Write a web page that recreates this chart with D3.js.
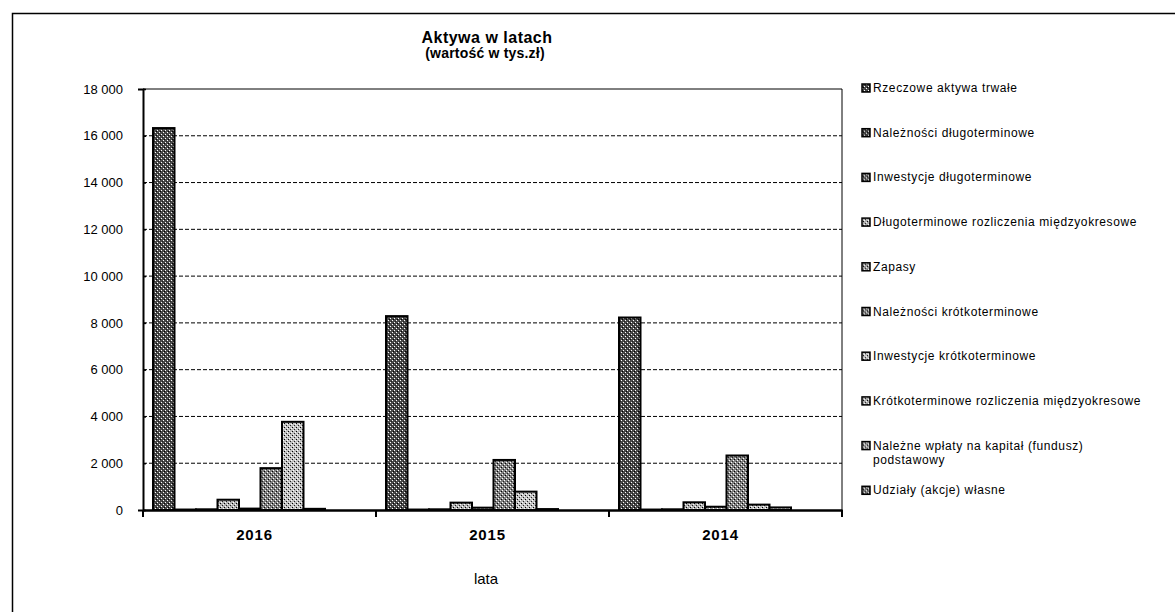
<!DOCTYPE html>
<html>
<head>
<meta charset="utf-8">
<script src="https://cdn.jsdelivr.net/npm/d3@7"></script>
<style>
body{margin:0;background:#fff;overflow:hidden;}
svg{display:block;}
text{font-family:Arial,"Liberation Sans",sans-serif;fill:#000;}
</style>
</head>
<body>
<div id="chart"></div>
<script>
var w=1175;
var h=612;

// data
var years=["2016","2015","2014"];
var series=["Rzeczowe aktywa trwałe","Należności długoterminowe","Inwestycje długoterminowe",
  "Długoterminowe rozliczenia międzyokresowe","Zapasy","Należności krótkoterminowe",
  "Inwestycje krótkoterminowe","Krótkoterminowe rozliczenia międzyokresowe",
  "Należne wpłaty na kapitał (fundusz) podstawowy","Udziały (akcje) własne"];
var v2016=[16330,20,30,440,60,1790,3770,50,0,0];
var v2015=[8290,20,30,315,100,2140,785,40,0,0];
var v2014=[8230,20,30,330,140,2330,230,110,0,0];
var yTicks=[0,2000,4000,6000,8000,10000,12000,14000,16000,18000];

var values={"2016":v2016,"2015":v2015,"2014":v2014};

// gray tones per series (scan is grayscale)
var bg=["#4a4a4a","#444","#666","#b0b0b0","#999","#808080","#c0c0c0","#aaa","#999","#777"];

var svg=d3.select("#chart").append("svg")
          .attr("width",w)
          .attr("height",h);

var defs=svg.append("defs");
series.forEach(function(s,i){
  var p=defs.append("pattern")
            .attr("id","pat"+i)
            .attr("width",4)
            .attr("height",4)
            .attr("patternUnits","userSpaceOnUse");
  p.append("rect").attr("width",4).attr("height",4).attr("fill",bg[i]);
  p.append("rect").attr("x",0).attr("y",0).attr("width",1).attr("height",1).attr("fill","#fff");
  p.append("rect").attr("x",2).attr("y",2).attr("width",1).attr("height",1).attr("fill","#fff");
  p.append("rect").attr("x",1).attr("y",3).attr("width",1).attr("height",1).attr("fill","#000");
  p.append("rect").attr("x",3).attr("y",1).attr("width",1).attr("height",1).attr("fill","#222");
});

// outer frame
svg.append("rect")
   .attr("x",12.5).attr("y",13.5)
   .attr("width",1190).attr("height",640)
   .attr("fill","none").attr("stroke","#000").attr("stroke-width",1.5);

// title
svg.append("text").attr("x",487).attr("y",43)
   .attr("text-anchor","middle").attr("font-size",16).attr("font-weight","bold")
   .attr("letter-spacing",0.5).text("Aktywa w latach");
svg.append("text").attr("x",485).attr("y",58)
   .attr("text-anchor","middle").attr("font-size",14).attr("font-weight","bold")
   .attr("letter-spacing",0.2)
   .text("(wartość w tys.zł)");

var x0=d3.scaleBand().domain(years).range([143,842]);
var x1=d3.scaleBand().domain(d3.range(series.length)).range([10,225]);
var y=d3.scaleLinear().domain([0,18000]).range([510,89]);

// grid
svg.append("g").selectAll("line")
   .data(yTicks.filter(function(d){return d>0 && d<18000;}))
   .enter().append("line")
   .attr("x1",143).attr("x2",842)
   .attr("y1",function(d){return y(d);}).attr("y2",function(d){return y(d);})
   .attr("stroke","#000").attr("stroke-width",1).attr("stroke-dasharray","4,2");

// plot border top/right
svg.append("path")
   .attr("d","M143,"+y(18000)+"H842V510")
   .attr("fill","none").attr("stroke","#000").attr("stroke-width",1);

// bars
var groups=svg.append("g").selectAll("g")
   .data(years).enter().append("g")
   .attr("transform",function(d){return "translate("+x0(d)+",0)";});
groups.selectAll("rect")
   .data(function(d){return values[d].map(function(v,i){return {i:i,v:v};});})
   .enter().append("rect")
   .filter(function(d){return d.v>0;})
   .attr("x",function(d){return x1(d.i);})
   .attr("width",x1.bandwidth())
   .attr("y",function(d){return y(d.v);})
   .attr("height",function(d){return 510-y(d.v);})
   .attr("fill",function(d){return "url(#pat"+d.i+")";})
   .attr("stroke","#000").attr("stroke-width",2);

// y axis
var yAxis=svg.append("g").attr("transform","translate(143,0)")
   .call(d3.axisLeft(y).tickValues(yTicks).tickSize(5)
     .tickFormat(function(d){return d3.format(",")(d).replace(","," ");}));
yAxis.select(".domain").attr("stroke-width",2);
yAxis.selectAll(".tick line").attr("stroke-width",1.5).attr("x2",3);
yAxis.selectAll(".tick text").attr("font-size",13).attr("x",-20)
   .attr("font-family","Arial,'Liberation Sans',sans-serif");

// x axis
var xAxis=svg.append("g").attr("transform","translate(0,510)")
   .call(d3.axisBottom(x0).tickSize(0).tickPadding(19));
xAxis.select(".domain").attr("stroke-width",2.5);
xAxis.selectAll(".tick text").attr("font-size",15).attr("font-weight","bold")
   .attr("letter-spacing",0.8).attr("dx",-5)
   .attr("font-family","Arial,'Liberation Sans',sans-serif");
svg.append("g").selectAll("line")
   .data([143,x0("2015"),x0("2014"),842])
   .enter().append("line")
   .attr("x1",function(d){return d;}).attr("x2",function(d){return d;})
   .attr("y1",510).attr("y2",517)
   .attr("stroke","#000").attr("stroke-width",2);

svg.append("text").attr("x",486).attr("y",584)
   .attr("text-anchor","middle").attr("font-size",15).text("lata");

// legend
var leg=svg.append("g").selectAll("g")
   .data(series).enter().append("g")
   .attr("transform",function(d,i){return "translate(862,"+(88+i*44.7)+")";});
leg.append("rect").attr("x",0).attr("y",-4).attr("width",8).attr("height",8)
   .attr("fill",function(d,i){return "url(#pat"+i+")";})
   .attr("stroke","#000").attr("stroke-width",1.5);
leg.append("text").attr("x",11).attr("y",4)
   .attr("font-size",12).attr("letter-spacing",0.6)
   .each(function(d,i){
     var t=d3.select(this);
     if(i===8){
       t.append("tspan").attr("x",11).text("Należne wpłaty na kapitał (fundusz)");
       t.append("tspan").attr("x",11).attr("dy",14).text("podstawowy");
     }else{
       t.text(d);
     }
   });
</script>
</body>
</html>
